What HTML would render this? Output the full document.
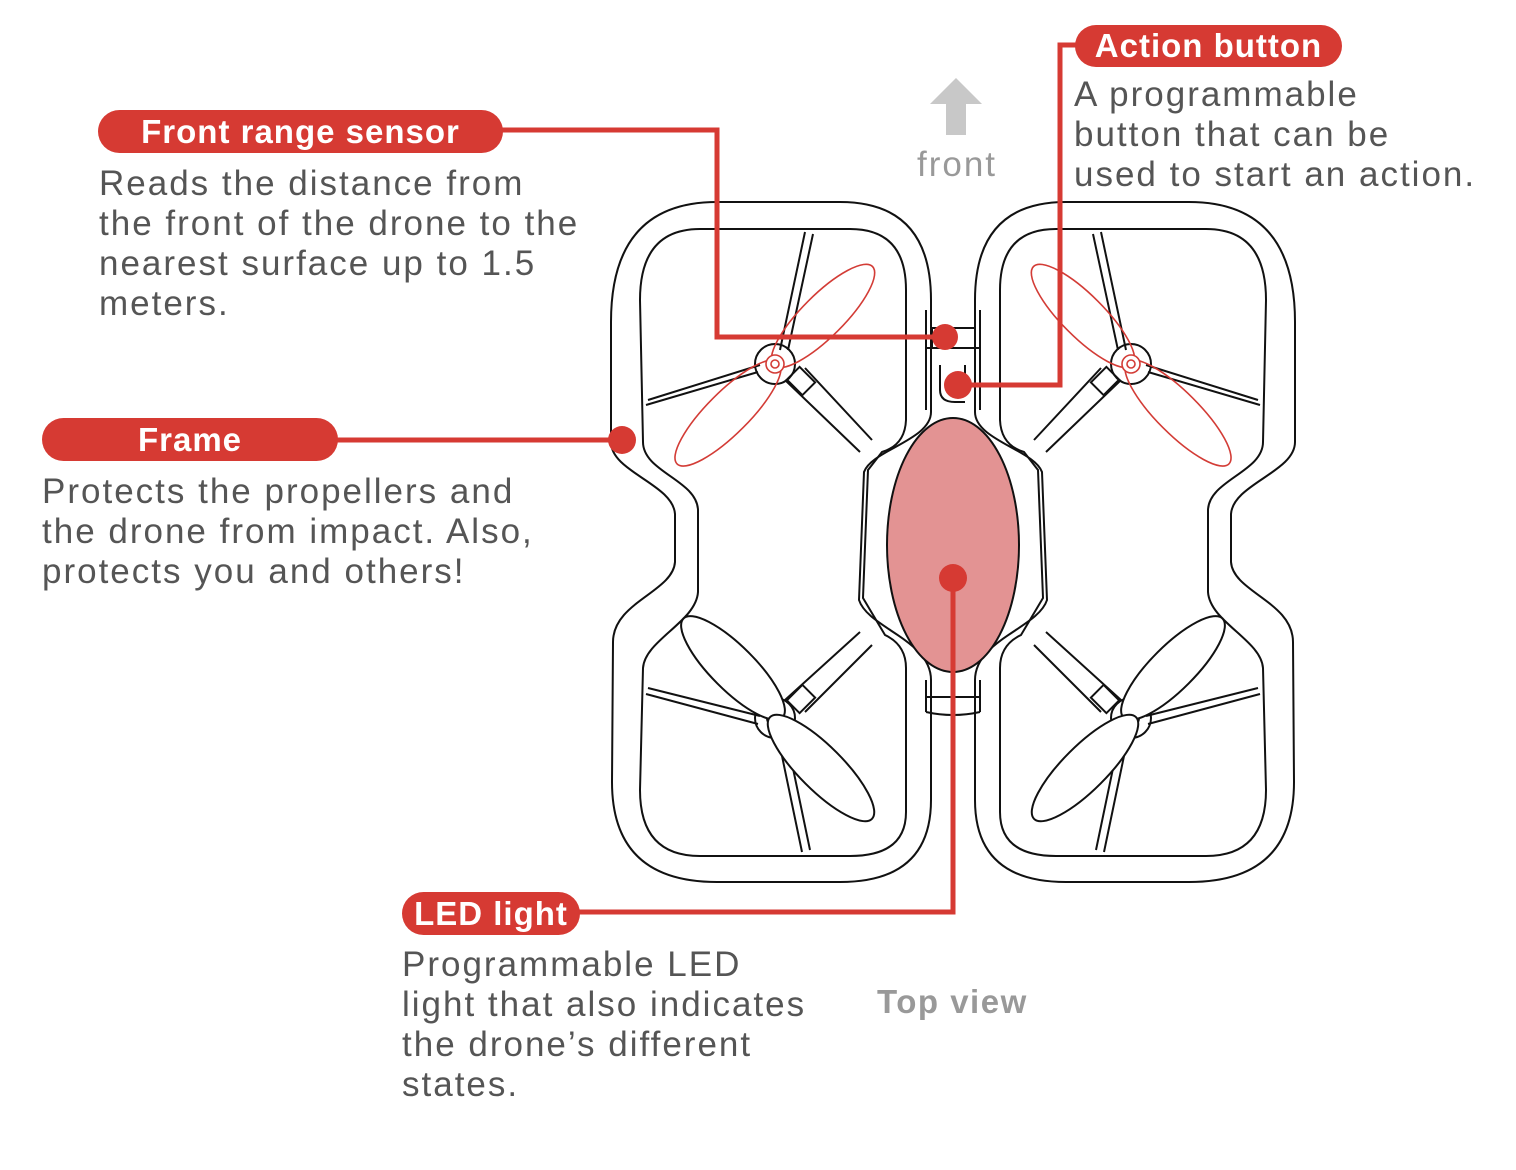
<!DOCTYPE html>
<html><head><meta charset="utf-8"><style>
html,body{margin:0;padding:0;background:#fff}
body{width:1516px;height:1170px;position:relative;overflow:hidden;font-family:"Liberation Sans",sans-serif}
.t{position:absolute;color:#555;font-size:35px;line-height:40px;white-space:nowrap;letter-spacing:2px}
.p{position:absolute;background:#d63a33;color:#fff;font-weight:bold;font-size:33px;border-radius:22px;text-align:center;line-height:43px;height:43px;letter-spacing:1px}
</style></head><body>
<svg width="1516" height="1170" style="position:absolute;left:0;top:0">
<defs>
<g id="pod" fill="none" stroke="#111" stroke-width="2">
<path d="M717,202 L840,202 Q931,202 931,300 L931,412 C931,440 872,450 864,472 L859,600 C868,628 931,640 931,680 L931,800 Q931,882 840,882 L717,882 Q612,882 612,782 L613,642 C613,602 673,592 675,562 L675,514 C673,484 611,472 611,442 L611,322 Q611,202 717,202 Z"/>
<path d="M700,229 L850,229 Q906,229 906,290 L906,420 Q905,445 882,452 L868,470 L863,598 L885,635 Q906,645 906,668 L906,812 Q906,856 850,856 L700,856 Q640,856 640,790 L643,668 C645,640 696,622 698,592 L698,510 C697,480 643,472 643,442 L640,300 Q640,229 700,229 Z"/>
<path d="M648,400 L760,365 M646,405 L758,372"/>
<path d="M805,232 L780,350 M813,234 L788,350"/>
<path d="M785,380 L860,452 M805,368 L872,440"/>
<path d="M648,688 L760,716 M646,694 L758,724"/>
<path d="M785,730 L810,850 M777,732 L802,852"/>
<path d="M785,700 L860,632 M805,712 L872,645"/>
<circle cx="775" cy="364" r="20"/>
<circle cx="775" cy="718" r="20"/>
<rect x="790" y="372" width="22" height="18" transform="rotate(45 801 381)"/>
<rect x="790" y="690" width="22" height="18" transform="rotate(-45 801 699)"/>
<circle cx="775" cy="718" r="8"/><circle cx="775" cy="718" r="4"/>
<ellipse cx="733" cy="668" rx="70" ry="22" transform="rotate(45 733 668)" fill="#fff"/>
<ellipse cx="821" cy="768" rx="72" ry="22" transform="rotate(45 821 768)" fill="#fff"/>
</g>
<g id="prop" fill="none" stroke="#d33c36" stroke-width="1.6">
<ellipse cx="823" cy="316" rx="70" ry="21" transform="rotate(-45 823 316)"/>
<ellipse cx="728" cy="413" rx="72" ry="21" transform="rotate(-45 728 413)"/>
<circle cx="775" cy="364" r="9" fill="#fff"/><circle cx="775" cy="364" r="4"/>
</g>
</defs>
<use href="#pod"/><use href="#pod" transform="translate(1906,0) scale(-1,1)"/>
<use href="#prop"/><use href="#prop" transform="translate(1906,0) scale(-1,1)"/>
<g fill="none" stroke="#111" stroke-width="2">
<path d="M926,310 L926,410 M980,310 L980,410 M926,348 L980,348"/>
<path d="M932,348 L932,328 L975,328 L975,348"/>
<path d="M940,365 L940,390 Q940,402 955,402 L965,402 M965,365 L965,378"/>
<path d="M926,680 L926,712 M980,680 L980,712 M926,697 L980,697 M926,712 Q953,718 980,712"/>
</g>
<ellipse cx="953" cy="545" rx="66" ry="127" fill="#e39393" stroke="#111" stroke-width="2"/>
<g fill="none" stroke="#d63a33" stroke-width="5">
<path d="M500,130 L717,130 L717,337 L945,337"/>
<path d="M1078,45 L1060,45 L1060,385 L958,385"/>
<path d="M336,440 L622,440"/>
<path d="M953,578 L953,912 L578,912"/>
</g>
<g fill="#d63a33"><circle cx="945" cy="337" r="13"/><circle cx="958" cy="385" r="14"/><circle cx="622" cy="440" r="14"/><circle cx="953" cy="578" r="14"/></g>
<path d="M956,78 L982,104 L966,104 L966,135 L946,135 L946,104 L930,104 Z" fill="#c8c8c8"/>
</svg>
<div class="p" style="left:98px;top:110px;width:405px">Front range sensor</div>
<div class="p" style="left:1075px;top:25px;width:267px;height:42px;line-height:42px">Action button</div>
<div class="p" style="left:42px;top:418px;width:296px">Frame</div>
<div class="p" style="left:402px;top:892px;width:178px">LED light</div>
<div class="t" style="left:99px;top:164px">Reads the distance from<br>the front of the drone to the<br>nearest surface up to 1.5<br>meters.</div>
<div class="t" style="left:1074px;top:75px">A programmable<br>button that can be<br>used to start an action.</div>
<div class="t" style="left:42px;top:472px">Protects the propellers and<br>the drone from impact. Also,<br>protects you and others!</div>
<div class="t" style="left:402px;top:945px">Programmable LED<br>light that also indicates<br>the drone’s different<br>states.</div>
<div class="t" style="left:917px;top:145px;color:#999">front</div>
<div class="t" style="left:877px;top:982px;color:#999;font-weight:bold;font-size:33px;letter-spacing:1.5px">Top view</div>
</body></html>
